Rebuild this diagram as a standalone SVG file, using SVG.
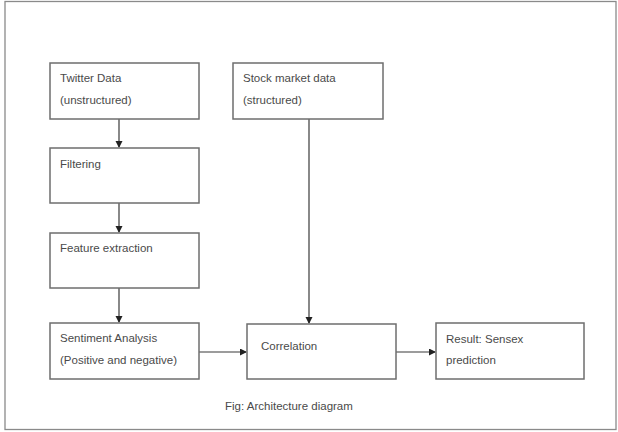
<svg xmlns="http://www.w3.org/2000/svg" width="618" height="432" viewBox="0 0 618 432">
<defs>
<style>
.box{fill:#fff;stroke:#6e6e6e;stroke-width:1.5}
.t{font-family:"Liberation Sans",Arial,sans-serif;font-size:11.5px;fill:#4a4a4a}
.c{stroke:#3a3a3a;stroke-width:1.2;fill:none;marker-end:url(#ah)}
</style>
<marker id="ah" markerWidth="8" markerHeight="8" refX="6" refY="3.5" orient="auto" markerUnits="userSpaceOnUse">
<path d="M0,0 L7,3.5 L0,7 Z" fill="#222"/>
</marker>
</defs>
<rect x="0" y="0" width="618" height="432" fill="#fff"/>
<rect x="5" y="1.5" width="611" height="428" fill="none" stroke="#8a8a8a" stroke-width="1.3"/>
<g id="connectors">
<line class="c" x1="119" y1="119" x2="119" y2="147"/>
<line class="c" x1="119" y1="203" x2="119" y2="232"/>
<line class="c" x1="119" y1="288" x2="119" y2="322"/>
<line class="c" x1="309" y1="119" x2="309" y2="323"/>
<line class="c" x1="199" y1="352" x2="246" y2="352"/>
<line class="c" x1="396" y1="352" x2="435" y2="352"/>
</g>
<g id="twitter"><rect class="box" x="50" y="63" width="149" height="56"/><text class="t" x="60" y="82">Twitter Data</text><text class="t" x="60" y="104">(unstructured)</text></g>
<g id="stock"><rect class="box" x="233" y="63" width="150" height="56"/><text class="t" x="243" y="82">Stock market data</text><text class="t" x="243" y="104">(structured)</text></g>
<g id="filtering"><rect class="box" x="50" y="148" width="149" height="55"/><text class="t" x="60" y="168">Filtering</text></g>
<g id="feature"><rect class="box" x="50" y="233" width="149" height="55"/><text class="t" x="60" y="252">Feature extraction</text></g>
<g id="sentiment"><rect class="box" x="50" y="323" width="149" height="56"/><text class="t" x="60" y="342">Sentiment Analysis</text><text class="t" x="60" y="364">(Positive and negative)</text></g>
<g id="correlation"><rect class="box" x="247" y="324" width="149" height="55"/><text class="t" x="261" y="350">Correlation</text></g>
<g id="result"><rect class="box" x="436" y="323" width="148" height="56"/><text class="t" x="446" y="343">Result: Sensex</text><text class="t" x="446" y="364">prediction</text></g>
<text class="t" x="225" y="410">Fig: Architecture diagram</text>
</svg>
